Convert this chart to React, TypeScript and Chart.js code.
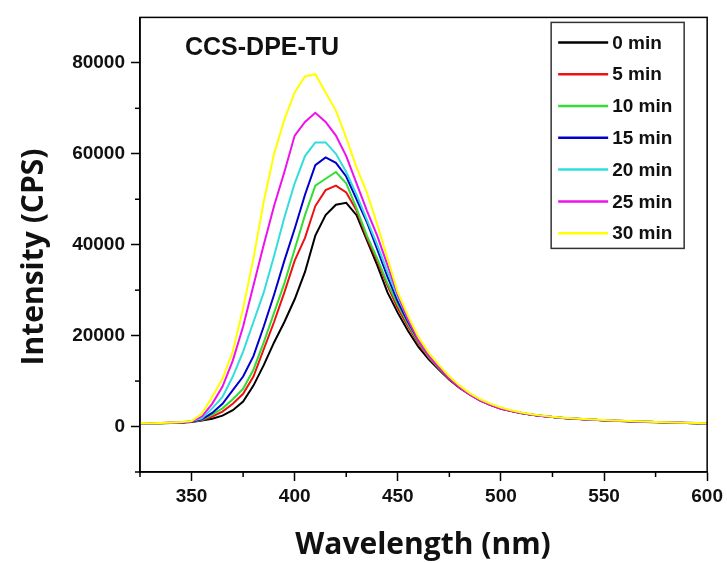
import React, { useEffect, useRef } from "react";
import { Chart, registerables } from "chart.js";

Chart.register(...registerables);

const wavelengths = [
  325, 330, 335, 340, 345, 350, 355, 360, 365, 370,
  375, 380, 385, 390, 395, 400, 405, 410, 415, 420,
  425, 430, 435, 440, 445, 450, 455, 460, 465, 470,
  475, 480, 485, 490, 495, 500, 505, 510, 515, 520,
  525, 530, 535, 540, 545, 550, 555, 560, 565, 570,
  575, 580, 585, 590, 595, 600,
];

const seriesLabels = ["0 min", "5 min", "10 min", "15 min", "20 min", "25 min", "30 min"];
const seriesColors = ["#000000", "#ee1111", "#33dd33", "#0000cc", "#33dddd", "#ee11ee", "#ffff00"];

const min0 = [
  700, 750, 700, 800, 850, 1000, 1300, 1700, 2400, 3600,
  5500, 9000, 13500, 18500, 23000, 28000, 34000, 42000, 46500, 48800,
  49200, 46500, 41000, 35500, 29500, 25000, 21000, 17500, 14800, 12500,
  10300, 8500, 7000, 5700, 4700, 3900, 3400, 2900, 2600, 2300,
  2100, 1900, 1700, 1600, 1500, 1350, 1250, 1150, 1100, 1000,
  950, 900, 850, 800, 750, 700,
];
const min5 = [
  800, 700, 750, 850, 900, 1100, 1400, 2200, 3300, 5000,
  7200, 11000, 17000, 23000, 29500, 36500, 41500, 48500, 52000, 53000,
  51500, 47500, 41500, 36500, 31000, 26000, 22000, 18200, 15200, 12700,
  10400, 8600, 7000, 5800, 4800, 4000, 3400, 3000, 2600, 2300,
  2100, 1900, 1750, 1600, 1500, 1400, 1300, 1200, 1100, 1050,
  1000, 900, 850, 800, 750, 700,
];
const min10 = [
  700, 800, 700, 800, 900, 1100, 1500, 2600, 4000, 6000,
  8300, 12500, 18500, 25000, 31500, 39000, 46500, 53000, 54500, 56000,
  53500, 48000, 42000, 37000, 31500, 26800, 22500, 18600, 15400, 12800,
  10500, 8700, 7100, 5800, 4800, 4000, 3500, 3000, 2650, 2350,
  2100, 1900, 1750, 1650, 1500, 1400, 1300, 1200, 1150, 1050,
  1000, 950, 850, 800, 750, 700,
];
const min15 = [
  800, 700, 800, 850, 900, 1100, 1600, 3000, 5000, 8000,
  11000, 15500, 22000, 29000, 36500, 43500, 51000, 57500, 59200, 58000,
  55000, 50000, 45000, 39000, 33000, 27500, 23000, 19000, 15700, 13000,
  10600, 8700, 7100, 5800, 4800, 4000, 3450, 3000, 2600, 2300,
  2100, 1900, 1750, 1600, 1500, 1400, 1300, 1200, 1100, 1050,
  1000, 950, 900, 800, 750, 700,
];
const min20 = [
  700, 750, 800, 800, 950, 1200, 1800, 4000, 6500, 11000,
  16500, 23000, 29500, 37500, 46000, 53500, 59500, 62500, 62500, 60000,
  56000, 51000, 45500, 40000, 34000, 28500, 23500, 19300, 15900, 13200,
  10800, 8800, 7200, 5900, 4900, 4100, 3500, 3000, 2650, 2350,
  2100, 1950, 1750, 1650, 1500, 1400, 1300, 1200, 1150, 1050,
  1000, 950, 900, 850, 800, 750,
];
const min25 = [
  750, 700, 800, 850, 900, 1100, 2200, 5000, 8800, 14500,
  22000, 31000, 40000, 48500, 56000, 64000, 67000, 69000, 67000, 64000,
  59500, 53500, 47500, 42000, 35500, 29000, 23500, 19000, 15600, 13000,
  10600, 8600, 7000, 5700, 4700, 3900, 3400, 3000, 2600, 2300,
  2100, 1900, 1750, 1600, 1500, 1400, 1300, 1200, 1100, 1050,
  1000, 950, 900, 850, 800, 750,
];
const min30 = [
  800, 700, 800, 900, 1000, 1200, 2800, 6500, 10500, 16500,
  26000, 37000, 49500, 60000, 67500, 73500, 77000, 77500, 73500, 69500,
  63500, 57000, 51500, 44500, 37000, 29500, 24300, 19700, 16200, 13500,
  11000, 9000, 7300, 6000, 5000, 4200, 3600, 3100, 2700, 2400,
  2150, 1950, 1800, 1650, 1550, 1450, 1350, 1250, 1150, 1100,
  1000, 950, 900, 850, 800, 750,
];
const seriesValues = [min0, min5, min10, min15, min20, min25, min30];

const xMajorTicks = [350, 400, 450, 500, 550, 600];
const xMinorTicks = [325, 375, 425, 475, 525, 575];
const yMajorTicks = [0, 20000, 40000, 60000, 80000];
const yMinorTicks = [-10000, 10000, 30000, 50000, 70000];

const chartTitle = "CCS-DPE-TU";
const xTitle = "Wavelength (nm)";
const yTitle = "Intensity (CPS)";

const tickFont = { family: '"Liberation Sans", Arial, sans-serif', size: 19, weight: "bold" as const };
const axisTitleCss = 'bold 30px "Open Sans", "DejaVu Sans", sans-serif';

const decorPlugin = {
  id: "decor",
  afterDraw(chart: any) {
    const { ctx, chartArea: a, scales } = chart;
    ctx.save();
    ctx.strokeStyle = "#000";
    ctx.lineWidth = 1.5;
    ctx.strokeRect(a.left, a.top, a.right - a.left, a.bottom - a.top);
    xMinorTicks.forEach((v) => {
      const px = scales.x.getPixelForValue(v);
      ctx.beginPath();
      ctx.moveTo(px, a.bottom);
      ctx.lineTo(px, a.bottom + 5);
      ctx.stroke();
    });
    yMinorTicks.forEach((v) => {
      const py = scales.y.getPixelForValue(v);
      ctx.beginPath();
      ctx.moveTo(a.left, py);
      ctx.lineTo(a.left - 5, py);
      ctx.stroke();
    });
    // chart title
    ctx.fillStyle = "#111";
    ctx.font = 'bold 25px "Liberation Sans", Arial, sans-serif';
    ctx.textBaseline = "alphabetic";
    ctx.textAlign = "left";
    ctx.fillText(chartTitle, a.left + 45, a.top + 38);
    // axis titles
    ctx.font = axisTitleCss;
    ctx.textAlign = "center";
    ctx.textBaseline = "middle";
    ctx.fillText(xTitle, 423, 545);
    ctx.save();
    ctx.translate(34, 257);
    ctx.rotate(-Math.PI / 2);
    ctx.fillText(yTitle, 0, 0);
    ctx.restore();
    // legend
    const bx = a.right - 156;
    const by = a.top + 5;
    const bw = 133;
    const bh = 226;
    ctx.fillStyle = "#fff";
    ctx.fillRect(bx, by, bw, bh);
    ctx.strokeStyle = "#333";
    ctx.lineWidth = 1.5;
    ctx.strokeRect(bx, by, bw, bh);
    ctx.font = 'bold 19px "Liberation Sans", Arial, sans-serif';
    ctx.textAlign = "left";
    ctx.textBaseline = "middle";
    seriesLabels.forEach((lab, i) => {
      const cy = by + 20 + i * 31.8;
      ctx.strokeStyle = seriesColors[i];
      ctx.lineWidth = 2.5;
      ctx.beginPath();
      ctx.moveTo(bx + 7, cy);
      ctx.lineTo(bx + 57, cy);
      ctx.stroke();
      ctx.fillStyle = "#111";
      ctx.fillText(lab, bx + 61, cy + 1);
    });
    ctx.restore();
  },
};

export default function App() {
  const canvasRef = useRef<HTMLCanvasElement | null>(null);

  useEffect(() => {
    document.body.style.margin = "0";
    const canvas = canvasRef.current;
    if (!canvas) return;
    const chart = new Chart(canvas, {
      type: "line",
      data: {
        datasets: seriesValues.map((vals, i) => ({
          label: seriesLabels[i],
          data: wavelengths.map((w, j) => ({ x: w, y: vals[j] })),
          borderColor: seriesColors[i],
          backgroundColor: seriesColors[i],
          borderWidth: 2,
          pointRadius: 0,
          tension: 0,
          fill: false,
          order: seriesValues.length - 1 - i,
        })),
      },
      options: {
        animation: false,
        responsive: true,
        maintainAspectRatio: false,
        layout: { padding: { top: 16, right: 18, left: 0, bottom: 0 } },
        plugins: { legend: { display: false }, tooltip: { enabled: false } },
        scales: {
          x: {
            type: "linear",
            min: 325,
            max: 600,
            afterBuildTicks: (s: any) => {
              s.ticks = xMajorTicks.map((v) => ({ value: v }));
            },
            afterFit: (s: any) => {
              s.height = 91;
            },
            ticks: {
              font: tickFont,
              color: "#111",
              padding: 4,
              maxRotation: 0,
              autoSkip: false,
              callback: (v: any) => String(v),
            },
            grid: { drawOnChartArea: false, drawTicks: true, tickLength: 9, tickColor: "#000", tickWidth: 1.5 },
            border: { display: true, color: "#000", width: 1.5 },
          },
          y: {
            type: "linear",
            min: -10000,
            max: 90000,
            afterBuildTicks: (s: any) => {
              s.ticks = yMajorTicks.map((v) => ({ value: v }));
            },
            afterFit: (s: any) => {
              s.width = 140;
            },
            ticks: {
              font: tickFont,
              color: "#111",
              padding: 6,
              autoSkip: false,
              callback: (v: any) => String(v),
            },
            grid: { drawOnChartArea: false, drawTicks: true, tickLength: 9, tickColor: "#000", tickWidth: 1.5 },
            border: { display: true, color: "#000", width: 1.5 },
          },
        },
      },
      plugins: [decorPlugin],
    });
    return () => chart.destroy();
  }, []);

  return (
    <div style={{ position: "fixed", left: 0, top: 0, width: 727, height: 563, background: "#fff" }}>
      <canvas ref={canvasRef} />
    </div>
  );
}
